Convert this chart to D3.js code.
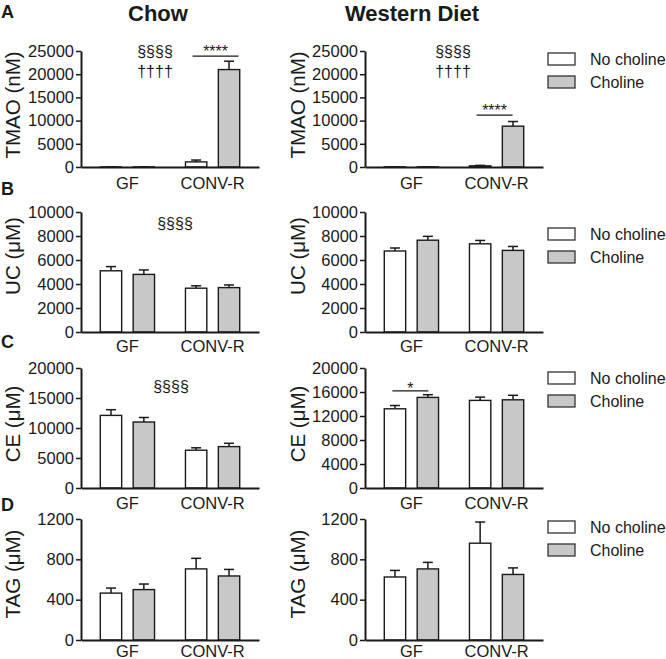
<!DOCTYPE html>
<html><head><meta charset="utf-8">
<script src="https://cdn.jsdelivr.net/npm/d3@7"></script>
<style>
body{margin:0;background:#fff}
svg{display:block}
text{font-family:'Liberation Sans',Arial,Helvetica,sans-serif;fill:#1a1a1a}
</style>
</head><body>
<svg id="c" width="666" height="659"></svg>
<script>
const groups = ["GF", "CONV-R"];
const treatments = ["No choline", "Choline"];
const dietTitles = ["Chow", "Western Diet"];
const panelLetters = ["A", "B", "C", "D"];
const yTitles = ["TMAO (nM)", "UC (μM)", "CE (μM)", "TAG (μM)"];

// values ordered [GF no choline, GF choline, CONV-R no choline, CONV-R choline]
const tmaoChow = [20, 20, 1100, 21000];
const tmaoChowErr = [10, 10, 400, 1800];
const tmaoWestern = [30, 30, 250, 8800];
const tmaoWesternErr = [10, 10, 100, 1000];
const ucChow = [5100, 4800, 3650, 3700];
const ucChowErr = [350, 370, 200, 220];
const ucWestern = [6750, 7650, 7350, 6800];
const ucWesternErr = [250, 320, 280, 330];
const ceChow = [12100, 11000, 6300, 6900];
const ceChowErr = [950, 750, 400, 550];
const ceWestern = [13200, 15100, 14600, 14700];
const ceWesternErr = [550, 450, 550, 750];
const tagChow = [465, 500, 705, 635];
const tagChowErr = [50, 55, 105, 65];
const tagWestern = [625, 705, 960, 650];
const tagWesternErr = [65, 65, 210, 65];

const tmaoTicks = [0, 5000, 10000, 15000, 20000, 25000];
const ucTicks = [0, 2000, 4000, 6000, 8000, 10000];
const ceChowTicks = [0, 5000, 10000, 15000, 20000];
const ceWesternTicks = [0, 4000, 8000, 12000, 16000, 20000];
const tagTicks = [0, 400, 800, 1200];

// significance marks
const sigStars = [
  {row: 0, col: 0, group: "CONV-R", value: 23900, text: "****", dx: [-20, 26]},
  {row: 0, col: 1, group: "CONV-R", value: 11200, text: "****", dx: [-20, 16]},
  {row: 2, col: 1, group: "GF", value: 16200, text: "*", dx: [-19, 17]}
];
const sigSymbols = [
  {row: 0, col: 0, text: ["§§§§", "††††"]},
  {row: 0, col: 1, text: ["§§§§", "††††"]},
  {row: 1, col: 0, text: ["§§§§"]},
  {row: 2, col: 0, text: ["§§§§"]}
];

const panelData = [
  [[tmaoChow, tmaoChowErr, tmaoTicks], [tmaoWestern, tmaoWesternErr, tmaoTicks]],
  [[ucChow, ucChowErr, ucTicks], [ucWestern, ucWesternErr, ucTicks]],
  [[ceChow, ceChowErr, ceChowTicks], [ceWestern, ceWesternErr, ceWesternTicks]],
  [[tagChow, tagChowErr, tagTicks], [tagWestern, tagWesternErr, tagTicks]]
];

// layout
const colX = [81, 365];
const W = 178;
const rows = [
  {top: 51, bottom: 167, pad: 10, letterY: 18, titleY: 105, legendY: 59, symX: [74, 88], symY: [57, 77]},
  {top: 212, bottom: 332, pad: 8, letterY: 195, titleY: 256, legendY: 234, symX: [94], symY: [229]},
  {top: 368, bottom: 488, pad: 9, letterY: 348, titleY: 424, legendY: 378, symX: [90], symY: [392]},
  {top: 519, bottom: 640, pad: 5, letterY: 511, titleY: 574, legendY: 527}
];
const titleX = [13, 298];
const fills = ["#ffffff", "#c8c8c8"];
const ink = "#1a1a1a";

const svg = d3.select("#c");

// column titles
dietTitles.forEach((t, c) => {
  svg.append("text").attr("x", c === 0 ? 158 : 412).attr("y", 21)
    .attr("text-anchor", "middle").attr("font-size", 22).attr("font-weight", "bold").text(t);
});

rows.forEach((r, ri) => {
  svg.append("text").attr("x", 1).attr("y", r.letterY)
    .attr("font-size", 18).attr("font-weight", "bold").text(panelLetters[ri]);

  [0, 1].forEach(ci => {
    const [vals, errs, ticks] = panelData[ri][ci];
    const x0 = colX[ci];
    const xG = d3.scaleBand().domain(groups).range([x0, x0 + W]).paddingInner(0).paddingOuter(0.045);
    const xT = d3.scaleBand().domain(treatments).range([0, xG.bandwidth()]).paddingInner(0.35).paddingOuter(0.47);
    const y = d3.scaleLinear().domain([0, d3.max(ticks)]).range([r.bottom, r.top]);

    const g = svg.append("g");
    const recs = [];
    groups.forEach((gr, gi) => treatments.forEach((tr, ti) => {
      recs.push({gr, tr, ti, v: vals[gi * 2 + ti], e: errs[gi * 2 + ti]});
    }));

    // error bars
    const eb = g.selectAll("g.eb").data(recs).join("g");
    eb.append("line")
      .attr("x1", d => xG(d.gr) + xT(d.tr) + xT.bandwidth() / 2)
      .attr("x2", d => xG(d.gr) + xT(d.tr) + xT.bandwidth() / 2)
      .attr("y1", d => y(d.v)).attr("y2", d => y(d.v + d.e))
      .attr("stroke", ink).attr("stroke-width", 1.5);
    eb.append("line")
      .attr("x1", d => xG(d.gr) + xT(d.tr) + xT.bandwidth() / 2 - 5)
      .attr("x2", d => xG(d.gr) + xT(d.tr) + xT.bandwidth() / 2 + 5)
      .attr("y1", d => y(d.v + d.e)).attr("y2", d => y(d.v + d.e))
      .attr("stroke", ink).attr("stroke-width", 1.5);

    // bars
    g.selectAll("rect.bar").data(recs).join("rect")
      .attr("x", d => xG(d.gr) + xT(d.tr))
      .attr("width", xT.bandwidth())
      .attr("y", d => y(d.v))
      .attr("height", d => y(0) - y(d.v))
      .attr("fill", d => fills[d.ti])
      .attr("stroke", ink).attr("stroke-width", 1.4);

    // y axis
    const ya = g.append("g").attr("transform", `translate(${x0},0)`)
      .call(d3.axisLeft(y).tickValues(ticks).tickFormat(d3.format("d")).tickSize(5).tickSizeOuter(0).tickPadding(2));
    ya.select(".domain").attr("stroke", ink).attr("stroke-width", 2);
    ya.selectAll(".tick line").attr("stroke", ink).attr("stroke-width", 1.5);
    ya.selectAll(".tick text").attr("font-size", 16.5).attr("fill", ink)
      .style("font-family", "'Liberation Sans',Arial,sans-serif");

    // x axis
    const xa = g.append("g").attr("transform", `translate(0,${r.bottom})`)
      .call(d3.axisBottom(xG).tickSize(0).tickSizeOuter(0).tickPadding(r.pad));
    xa.select(".domain").attr("stroke", ink).attr("stroke-width", 2);
    xa.selectAll(".tick text").attr("font-size", 16.5).attr("fill", ink)
      .style("font-family", "'Liberation Sans',Arial,sans-serif");

    // y title
    svg.append("text")
      .attr("transform", `translate(${titleX[ci] + 7},${r.titleY}) rotate(-90)`)
      .attr("text-anchor", "middle").attr("font-size", 20.5).text(yTitles[ri]);

    // significance stars
    sigStars.filter(s => s.row === ri && s.col === ci).forEach(s => {
      const cx = xG(s.group) + xG.bandwidth() / 2;
      const ly = y(s.value);
      g.append("line").attr("x1", cx + s.dx[0]).attr("x2", cx + s.dx[1])
        .attr("y1", ly).attr("y2", ly).attr("stroke", ink).attr("stroke-width", 1.3);
      g.append("text").attr("x", cx + (s.dx[0] + s.dx[1]) / 2).attr("y", ly + (s.text.length > 1 ? 1 : 3))
        .attr("text-anchor", "middle").attr("font-size", 16).text(s.text);
    });
    sigSymbols.filter(s => s.row === ri && s.col === ci).forEach(s => {
      s.text.forEach((t, k) => {
        g.append("text").attr("x", x0 + r.symX[ci === 0 ? 0 : 1]).attr("y", r.symY[k])
          .attr("text-anchor", "middle").attr("font-size", 16).text(t);
      });
    });
  });

  // legend
  const lg = svg.append("g").attr("transform", `translate(548,${r.legendY})`);
  treatments.forEach((t, i) => {
    lg.append("rect").attr("x", 0).attr("y", i * 23 - 6).attr("width", 27).attr("height", 12)
      .attr("fill", fills[i]).attr("stroke", "#333").attr("stroke-width", 1.3);
    lg.append("text").attr("x", 42).attr("y", i * 23 + 6).attr("font-size", 16).text(t);
  });
});
</script>
</body></html>
